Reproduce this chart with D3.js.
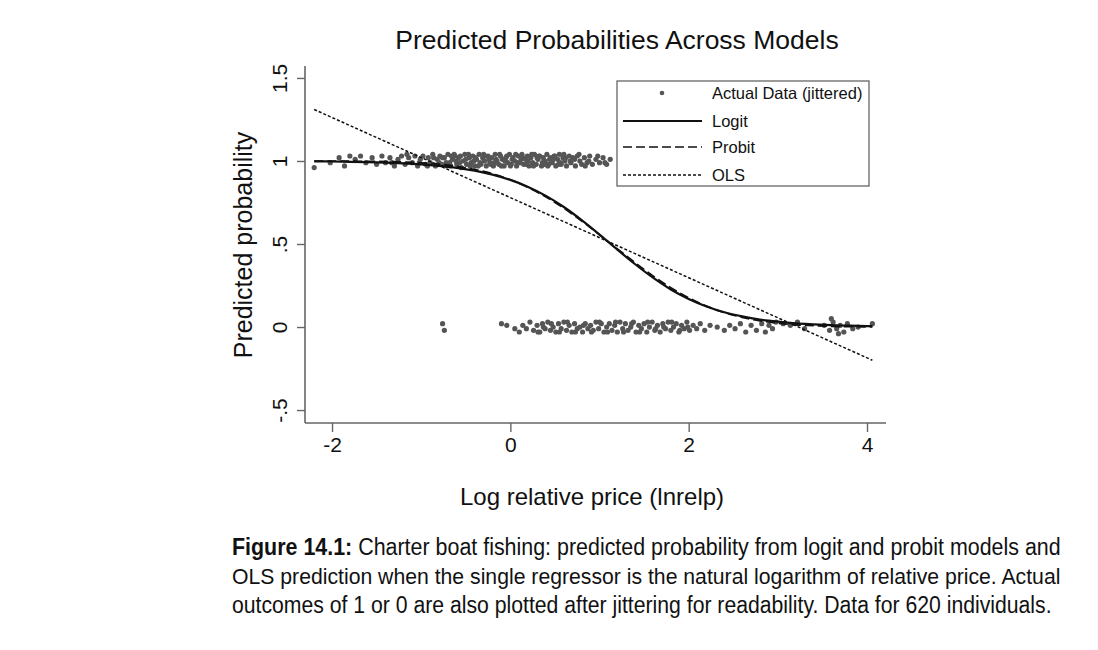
<!DOCTYPE html>
<html>
<head>
<meta charset="utf-8">
<script src="https://cdn.jsdelivr.net/npm/d3@7"></script>
<style>
  body { margin: 0; background: #fff; }
  svg text { font-family: "Liberation Sans", Arial, Helvetica, sans-serif; }
</style>
</head>
<body>
<svg id="chart"></svg>
<script>
// x grid for the fitted curves (lnrelp)
var curveX = [-2.2, -2.0, -1.8, -1.6, -1.4, -1.2, -1.0, -0.8, -0.6, -0.4, -0.2, 0.0,
              0.2, 0.4, 0.6, 0.8, 1.0, 1.2, 1.4, 1.6, 1.8, 2.0, 2.2, 2.4, 2.6, 2.8,
              3.0, 3.2, 3.4, 3.6, 3.8, 4.06]
var logitP = [0.998, 0.997, 0.995, 0.993, 0.990, 0.986, 0.980, 0.971, 0.959, 0.942, 0.918, 0.886,
              0.844, 0.790, 0.723, 0.644, 0.557, 0.466, 0.378, 0.297, 0.226, 0.169, 0.124, 0.089,
              0.064, 0.045, 0.032, 0.022, 0.016, 0.011, 0.008, 0.005]
var probitP = [1.000, 1.000, 0.999, 0.998, 0.997, 0.994, 0.989, 0.981, 0.968, 0.949, 0.923, 0.887,
               0.840, 0.783, 0.715, 0.638, 0.556, 0.471, 0.387, 0.308, 0.237, 0.176, 0.126, 0.087,
               0.058, 0.037, 0.023, 0.013, 0.008, 0.004, 0.002, 0.001]
var olsX = [-2.2, 4.06]
var olsP = [1.31, -0.20]

// jittered actual outcomes: [lnrelp, jittered y]
var ones = [[-2.20,0.96],[-2.02,0.99],[-1.92,1.02],[-1.86,0.97],[-1.80,1.03],[-1.74,1.01],[-1.68,1.03],
  [-1.62,0.99],[-1.55,1.02],[-1.50,0.98],[-1.44,1.03],[-1.40,0.99],[-1.35,1.02],[-1.30,0.97],[-1.26,1.01],
  [-1.22,1.03],[-1.18,0.98],[-1.14,1.02],[-1.10,0.99],[-1.07,1.03],[-1.04,0.97],[-1.01,1.01],[-0.98,1.03],
  [-0.95,0.98],[-0.92,1.02],[-0.90,0.99],[-0.87,1.04],[-0.84,0.97],[-0.82,1.01],[-0.79,1.03],[-0.77,0.98],
  [-0.74,1.02],[-0.72,0.99],[-0.70,1.04],[-0.67,0.97],[-0.65,1.01],[-0.62,1.03],[-0.60,0.98],[-0.58,1.02],
  [-0.55,0.96],[-0.53,1.00],[-0.51,1.04],[-0.49,0.98],[-0.46,1.02],[-0.44,0.99],[-0.42,1.03],[-0.40,0.97],
  [-0.38,1.01],[-0.35,1.04],[-0.33,0.98],[-0.31,1.02],[-0.29,1.00],[-0.27,0.97],[-0.25,1.03],[-0.23,0.99],
  [-0.21,1.02],[-0.19,0.97],[-0.17,1.04],[-0.15,1.00],[-0.13,0.98],[-0.11,1.03],[-0.09,1.01],[-0.07,0.97],
  [-0.05,1.02],[-0.03,0.99],[-0.01,1.04],[0.01,0.98],[0.03,1.02],[0.05,1.00],[0.07,0.97],[0.09,1.03],
  [0.11,0.99],[0.13,1.04],[0.15,0.98],[0.17,1.01],[0.19,1.03],[0.21,0.97],[0.23,1.02],[0.25,0.99],
  [0.27,1.04],[0.29,0.98],[0.31,1.01],[0.33,1.03],[0.35,0.97],[0.37,1.02],[0.39,1.00],[0.41,1.04],
  [0.43,0.98],[0.45,1.02],[0.47,0.99],[0.49,1.03],[0.51,0.97],[0.53,1.01],[0.55,1.04],[0.57,0.98],
  [0.59,1.02],[0.61,1.00],[0.63,0.97],[0.66,1.03],[0.68,0.99],[0.70,1.02],[0.73,0.97],[0.75,1.03],
  [0.78,1.00],[0.80,0.98],[0.83,1.02],[0.86,0.99],[0.89,1.03],[0.92,0.98],[0.96,1.01],[1.00,0.99],
  [1.04,1.02],[1.08,0.98],[1.12,1.01],
  [-0.80,0.99],[-0.76,1.02],[-0.71,0.97],[-0.66,1.03],[-0.61,1.00],[-0.56,1.03],[-0.50,1.01],[-0.45,0.97],
  [-0.39,1.02],[-0.34,0.99],[-0.28,1.03],[-0.22,0.98],[-0.16,1.01],[-0.10,0.97],[-0.04,1.03],[0.02,1.01],
  [0.08,0.99],[0.14,1.02],[0.20,1.00],[0.26,0.97],[0.32,1.03],[0.38,0.98],[0.44,1.01],[0.50,1.03],
  [0.56,0.99],[0.62,1.02],[0.72,1.01],[0.84,0.97],
  [-1.33,0.99],[-1.16,1.04],[-1.02,0.99],[-0.93,0.97],[-0.86,1.02],[-0.68,0.99],[-0.63,1.04],[-0.57,0.99],
  [-0.47,1.04],[-0.41,1.00],[-0.36,0.97],[-0.30,1.04],[-0.24,1.01],[-0.18,0.99],[-0.12,1.04],[-0.06,1.00],
  [0.00,0.97],[0.06,1.04],[0.12,1.01],[0.18,0.98],[0.24,1.04],[0.30,1.02],[0.36,0.99],[0.42,0.97],
  [0.48,1.01],[0.54,0.98],[0.60,1.04],[0.67,1.00],[0.77,1.04],[0.88,1.00],[0.98,1.03],[1.06,0.99]]
var zeros = [[-0.76,0.02],[-0.74,-0.02],[-0.10,0.02],[-0.04,0.01],[0.05,-0.01],[0.10,-0.03],[0.14,0.01],
  [0.18,-0.01],[0.22,0.03],[0.26,-0.02],[0.30,0.01],[0.33,-0.03],[0.36,0.02],[0.39,-0.01],[0.42,0.03],
  [0.45,-0.02],[0.48,0.00],[0.51,-0.03],[0.54,0.02],[0.57,-0.01],[0.60,0.03],[0.63,-0.02],[0.66,0.01],
  [0.69,-0.03],[0.72,0.02],[0.75,-0.01],[0.78,0.00],[0.81,-0.03],[0.84,0.02],[0.87,-0.01],[0.90,0.01],
  [0.93,-0.02],[0.96,0.03],[0.99,-0.01],[1.02,0.02],[1.05,-0.03],[1.08,0.00],[1.11,0.02],[1.14,-0.02],
  [1.17,0.01],[1.20,-0.03],[1.23,0.03],[1.26,-0.01],[1.29,0.02],[1.32,-0.02],[1.35,0.00],[1.38,0.03],
  [1.41,-0.03],[1.44,0.01],[1.47,-0.01],[1.50,0.02],[1.53,-0.03],[1.56,0.00],[1.59,0.03],[1.62,-0.02],
  [1.65,0.01],[1.68,-0.03],[1.71,0.02],[1.74,-0.01],[1.77,0.03],[1.80,-0.02],[1.83,0.00],[1.86,0.02],
  [1.89,-0.03],[1.92,0.01],[1.95,-0.01],[1.98,0.03],[2.01,-0.02],[2.05,0.01],[2.09,-0.01],[2.13,0.02],
  [2.18,-0.02],[2.24,0.01],[2.32,0.00],[2.40,-0.02],[2.46,0.01],[2.52,-0.01],[2.58,0.02],[2.64,-0.03],
  [2.70,0.01],[2.76,-0.02],[2.82,0.02],[2.86,-0.03],[2.90,0.01],[2.94,-0.01],[2.98,0.03],[3.06,0.02],
  [3.14,0.01],[3.22,0.03],[3.30,-0.01],[3.52,0.01],[3.58,-0.02],[3.62,0.03],[3.66,-0.01],[3.70,0.01],
  [3.74,-0.03],[3.78,0.02],[3.84,-0.01],[3.90,0.00],[4.06,0.02],
  [0.31,-0.03],[0.37,0.00],[0.46,0.02],[0.55,-0.03],[0.64,0.03],[0.73,-0.03],[0.82,0.01],[0.91,-0.03],
  [1.00,0.03],[1.09,-0.03],[1.18,0.03],[1.27,-0.03],[1.36,0.02],[1.45,-0.03],[1.54,0.03],[1.63,-0.01],
  [1.72,0.00],[1.81,0.03],[1.90,-0.02],[1.99,0.00],[3.60,0.05],[3.68,-0.04]]

var xTicks = [-2, 0, 2, 4]
var xTickLabels = ["-2", "0", "2", "4"]
var yTicks = [-0.5, 0, 0.5, 1, 1.5]
var yTickLabels = ["-.5", "0", ".5", "1", "1.5"]
var legendLabels = ["Actual Data (jittered)", "Logit", "Probit", "OLS"]
var captionLines = [
  ["Figure 14.1:", " Charter boat fishing: predicted probability from logit and probit models and"],
  ["", "OLS prediction when the single regressor is the natural logarithm of relative price. Actual"],
  ["", "outcomes of 1 or 0 are also plotted after jittering for readability. Data for 620 individuals."]
]

var W = 1098, H = 650
var svg = d3.select("#chart").attr("width", W).attr("height", H)

var plot = {left: 305, right: 886, top: 66, bottom: 423}

var xScale = d3.scaleLinear()
    .domain([-2.303, 4.213])
    .range([plot.left, plot.right])
var yScale = d3.scaleLinear()
    .domain([-0.578, 1.572])
    .range([plot.bottom, plot.top])

// axes
var xAxis = svg.append("g")
    .attr("transform", "translate(0," + plot.bottom + ")")
    .call(d3.axisBottom(xScale).tickValues(xTicks).tickSize(9).tickPadding(5)
        .tickFormat(function(d, i) { return xTickLabels[i] }))
var yAxis = svg.append("g")
    .attr("transform", "translate(" + plot.left + ",0)")
    .call(d3.axisLeft(yScale).tickValues(yTicks).tickSize(8).tickPadding(4)
        .tickFormat(function(d, i) { return yTickLabels[i] }))

svg.selectAll(".domain").attr("stroke", "#666").attr("stroke-width", 1.6)
xAxis.select(".domain").attr("d", "M" + plot.left + ",0H" + plot.right)
yAxis.select(".domain").attr("d", "M0," + plot.top + "V" + plot.bottom)
svg.selectAll(".tick line").attr("stroke", "#666").attr("stroke-width", 1.4)
xAxis.attr("font-size", 21)
yAxis.attr("font-size", 21)
svg.selectAll(".tick text").attr("fill", "#111")
    .style("font-size", "21px")
    .attr("font-family", "'Liberation Sans', Arial, sans-serif")
yAxis.selectAll(".tick text")
    .attr("x", null).attr("dy", null)
    .attr("text-anchor", "middle")
    .attr("transform", "translate(-25,0) rotate(-90)")
    .attr("dy", "0.35em")

// scatter
var dots = svg.append("g").attr("fill", "#555")
dots.selectAll(".one").data(ones).enter().append("circle")
    .attr("cx", function(d) { return xScale(d[0]) })
    .attr("cy", function(d) { return yScale(d[1]) })
    .attr("r", 2.6)
dots.selectAll(".zero").data(zeros).enter().append("circle")
    .attr("cx", function(d) { return xScale(d[0]) })
    .attr("cy", function(d) { return yScale(d[1]) })
    .attr("r", 2.6)

// lines
var line = d3.line()
    .x(function(d) { return xScale(d[0]) })
    .y(function(d) { return yScale(d[1]) })
    .curve(d3.curveMonotoneX)

svg.append("path")
    .datum(d3.zip(olsX, olsP))
    .attr("d", line).attr("fill", "none").attr("stroke", "#111")
    .attr("stroke-width", 1.5).attr("stroke-dasharray", "3,2")
svg.append("path")
    .datum(d3.zip(curveX, probitP))
    .attr("d", line).attr("fill", "none").attr("stroke", "#111")
    .attr("stroke-width", 1.7).attr("stroke-dasharray", "9,4")
svg.append("path")
    .datum(d3.zip(curveX, logitP))
    .attr("d", line).attr("fill", "none").attr("stroke", "#111")
    .attr("stroke-width", 2.2)

// legend
var legend = svg.append("g").attr("transform", "translate(617,81)")
legend.append("rect").attr("width", 252).attr("height", 105)
    .attr("fill", "#fff").attr("stroke", "#666").attr("stroke-width", 1.3)
var rowY = [12, 40, 66, 94]
var rows = legend.selectAll(".row").data(legendLabels).enter().append("g")
    .attr("transform", function(d, i) { return "translate(0," + rowY[i] + ")" })
rows.append("text").attr("x", 95).attr("dy", "0.35em")
    .style("font-size", "16.5px").attr("fill", "#111")
    .text(function(d) { return d })
rows.filter(function(d, i) { return i == 0 })
    .append("circle").attr("cx", 45).attr("cy", 0).attr("r", 2.3).attr("fill", "#555")
var dashes = [null, null, "9,4", "3,2"]
rows.filter(function(d, i) { return i > 0 })
    .append("line").attr("x1", 6).attr("x2", 85)
    .attr("stroke", "#111")
    .attr("stroke-width", function(d, i) { return i == 0 ? 2 : 1.4 })
    .attr("stroke-dasharray", function(d, i) { return dashes[i + 1] })

// titles
svg.append("text").attr("x", 617).attr("y", 49).attr("text-anchor", "middle")
    .style("font-size", "26.5px").attr("fill", "#111")
    .text("Predicted Probabilities Across Models")
svg.append("text").attr("transform", "translate(252,245) rotate(-90)")
    .attr("text-anchor", "middle").style("font-size", "25px").attr("fill", "#111")
    .text("Predicted probability")
svg.append("text").attr("x", 592).attr("y", 505).attr("text-anchor", "middle")
    .style("font-size", "24px").attr("fill", "#111")
    .text("Log relative price (lnrelp)")

// caption: squeeze each line horizontally to the printed width
var capY = [555, 584, 613]
var capLen = [829, 829, 820]
captionLines.forEach(function(parts, i) {
  var g = svg.append("g")
  var t = g.append("text")
      .style("font-size", "23px").attr("fill", "#111")
  if (parts[0]) t.append("tspan").style("font-weight", "bold").text(parts[0])
  t.append("tspan").text(parts[1])
  var natural = t.node().getComputedTextLength()
  g.attr("transform", "translate(232," + capY[i] + ") scale(" + (capLen[i] / natural) + ",1)")
})
</script>
</body>
</html>
